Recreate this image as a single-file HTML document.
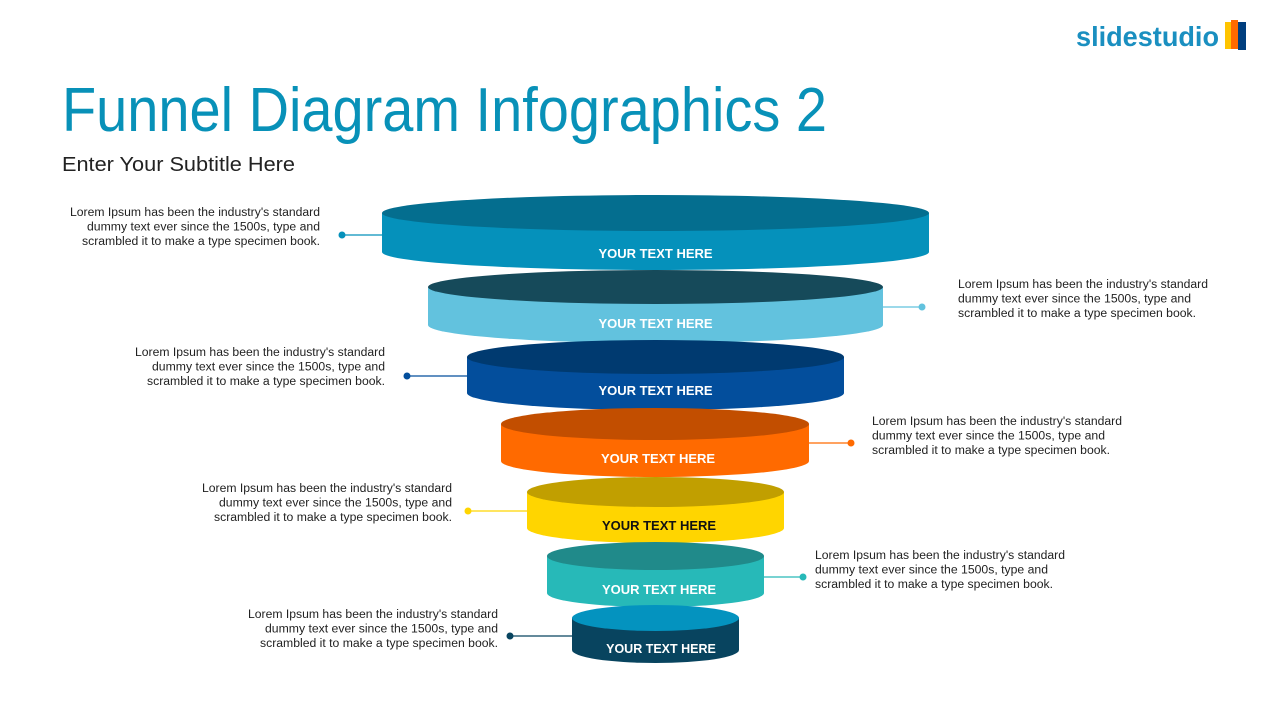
<!DOCTYPE html>
<html><head><meta charset="utf-8"><style>
html,body{margin:0;padding:0;background:#fff;}
svg{display:block;}
text{font-family:"Liberation Sans",sans-serif;}
.d{font-size:11.5px;fill:#222;}
.b{font-size:13px;font-weight:bold;fill:#fff;}
</style></head><body>
<svg width="1280" height="720" viewBox="0 0 1280 720">
<text x="1076" y="46" font-size="28" font-weight="bold" fill="#1a8fc0" textLength="143" lengthAdjust="spacingAndGlyphs">slidestudio</text>
<rect x="1225" y="22" width="7" height="27" fill="#ffc400"/>
<rect x="1231" y="20" width="7" height="29" fill="#ff6a00"/>
<rect x="1238" y="22" width="8" height="28" fill="#003e7e"/>
<text x="62" y="131" font-size="62" fill="#0891b8" textLength="765" lengthAdjust="spacingAndGlyphs">Funnel Diagram Infographics 2</text>
<text x="62" y="171" font-size="20" fill="#222" textLength="233" lengthAdjust="spacingAndGlyphs">Enter Your Subtitle Here</text>

<g>
<path d="M382,213 L382,252 A273.5,18 0 0 0 929,252 L929,213 Z" fill="#0591bb"/>
<ellipse cx="655.5" cy="213" rx="273.5" ry="18" fill="#046e8f"/>
<text class="b" x="655.5" y="258" text-anchor="middle">YOUR TEXT HERE</text>
</g>
<g>
<path d="M428,287 L428,325 A227.5,18 0 0 0 883,325 L883,287 Z" fill="#62c2de"/>
<ellipse cx="655.5" cy="287" rx="227.5" ry="17" fill="#164a5a"/>
<text class="b" x="655.5" y="328" text-anchor="middle">YOUR TEXT HERE</text>
</g>
<g>
<path d="M467,357 L467,393 A188.5,17 0 0 0 844,393 L844,357 Z" fill="#034e9c"/>
<ellipse cx="655.5" cy="357" rx="188.5" ry="17" fill="#003a70"/>
<text class="b" x="655.5" y="395" text-anchor="middle">YOUR TEXT HERE</text>
</g>
<g>
<path d="M501,424 L501,461 A154,16 0 0 0 809,461 L809,424 Z" fill="#ff6a00"/>
<ellipse cx="655" cy="424" rx="154" ry="16" fill="#c24e00"/>
<text class="b" x="658" y="463" text-anchor="middle">YOUR TEXT HERE</text>
</g>
<g>
<path d="M527,492 L527,528 A128.5,15 0 0 0 784,528 L784,492 Z" fill="#ffd500"/>
<ellipse cx="655.5" cy="492" rx="128.5" ry="15" fill="#c19f00"/>
<text class="b" x="659" y="530" text-anchor="middle" style="fill:#111">YOUR TEXT HERE</text>
</g>
<g>
<path d="M547,556 L547,593 A108.5,14 0 0 0 764,593 L764,556 Z" fill="#27b9b8"/>
<ellipse cx="655.5" cy="556" rx="108.5" ry="14" fill="#208a8a"/>
<text class="b" x="659" y="594" text-anchor="middle">YOUR TEXT HERE</text>
</g>
<g>
<path d="M572,618 L572,650 A83.5,13 0 0 0 739,650 L739,618 Z" fill="#08445f"/>
<ellipse cx="655.5" cy="618" rx="83.5" ry="13" fill="#0493bf"/>
<text class="b" x="661" y="653" text-anchor="middle" style="font-size:12.5px">YOUR TEXT HERE</text>
</g>

<g stroke-width="1.2">
<line x1="342" y1="235" x2="382" y2="235" stroke="#0591bb"/><circle cx="342" cy="235" r="3.5" fill="#0591bb"/>
<line x1="883" y1="307" x2="922" y2="307" stroke="#62c2de"/><circle cx="922" cy="307" r="3.5" fill="#62c2de"/>
<line x1="407" y1="376" x2="467" y2="376" stroke="#034e9c"/><circle cx="407" cy="376" r="3.5" fill="#034e9c"/>
<line x1="809" y1="443" x2="851" y2="443" stroke="#ff6a00"/><circle cx="851" cy="443" r="3.5" fill="#ff6a00"/>
<line x1="468" y1="511" x2="527" y2="511" stroke="#ffd500"/><circle cx="468" cy="511" r="3.5" fill="#ffd500"/>
<line x1="764" y1="577" x2="803" y2="577" stroke="#27b9b8"/><circle cx="803" cy="577" r="3.5" fill="#27b9b8"/>
<line x1="510" y1="636" x2="572" y2="636" stroke="#08445f"/><circle cx="510" cy="636" r="3.5" fill="#08445f"/>
</g>

<g class="d" text-anchor="end" lengthAdjust="spacingAndGlyphs">
<text x="320" y="216" textLength="250" lengthAdjust="spacingAndGlyphs">Lorem Ipsum has been the industry's standard</text>
<text x="320" y="230.5" textLength="233" lengthAdjust="spacingAndGlyphs">dummy text ever since the 1500s, type and</text>
<text x="320" y="245" textLength="238" lengthAdjust="spacingAndGlyphs">scrambled it to make a type specimen book.</text>
<text x="385" y="356" textLength="250" lengthAdjust="spacingAndGlyphs">Lorem Ipsum has been the industry's standard</text>
<text x="385" y="370.5" textLength="233" lengthAdjust="spacingAndGlyphs">dummy text ever since the 1500s, type and</text>
<text x="385" y="385" textLength="238" lengthAdjust="spacingAndGlyphs">scrambled it to make a type specimen book.</text>
<text x="452" y="492" textLength="250" lengthAdjust="spacingAndGlyphs">Lorem Ipsum has been the industry's standard</text>
<text x="452" y="506.5" textLength="233" lengthAdjust="spacingAndGlyphs">dummy text ever since the 1500s, type and</text>
<text x="452" y="521" textLength="238" lengthAdjust="spacingAndGlyphs">scrambled it to make a type specimen book.</text>
<text x="498" y="618" textLength="250" lengthAdjust="spacingAndGlyphs">Lorem Ipsum has been the industry's standard</text>
<text x="498" y="632.5" textLength="233" lengthAdjust="spacingAndGlyphs">dummy text ever since the 1500s, type and</text>
<text x="498" y="647" textLength="238" lengthAdjust="spacingAndGlyphs">scrambled it to make a type specimen book.</text>
</g>
<g class="d">
<text x="958" y="288" textLength="250" lengthAdjust="spacingAndGlyphs">Lorem Ipsum has been the industry's standard</text>
<text x="958" y="302.5" textLength="233" lengthAdjust="spacingAndGlyphs">dummy text ever since the 1500s, type and</text>
<text x="958" y="317" textLength="238" lengthAdjust="spacingAndGlyphs">scrambled it to make a type specimen book.</text>
<text x="872" y="425" textLength="250" lengthAdjust="spacingAndGlyphs">Lorem Ipsum has been the industry's standard</text>
<text x="872" y="439.5" textLength="233" lengthAdjust="spacingAndGlyphs">dummy text ever since the 1500s, type and</text>
<text x="872" y="454" textLength="238" lengthAdjust="spacingAndGlyphs">scrambled it to make a type specimen book.</text>
<text x="815" y="559" textLength="250" lengthAdjust="spacingAndGlyphs">Lorem Ipsum has been the industry's standard</text>
<text x="815" y="573.5" textLength="233" lengthAdjust="spacingAndGlyphs">dummy text ever since the 1500s, type and</text>
<text x="815" y="588" textLength="238" lengthAdjust="spacingAndGlyphs">scrambled it to make a type specimen book.</text>
</g>
</svg>
</body></html>
